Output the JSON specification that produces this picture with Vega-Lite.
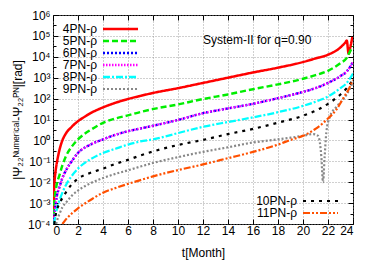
{
  "$schema": "https://vega.github.io/schema/vega-lite/v6.json",
  "width": 300,
  "height": 209,
  "autosize": "none",
  "padding": {"left": 53, "top": 15, "right": 23, "bottom": 39},
  "config": {
    "font": "Liberation Sans",
    "view": {"stroke": "black", "strokeWidth": 1},
    "axis": {"labelFont": "Liberation Sans", "labelFontSize": 12, "labelColor": "black", "titleFont": "Liberation Sans", "titleFontSize": 12, "titleFontWeight": "normal", "titleColor": "black", "tickColor": "black", "domain": false}
  },
  "datasets": {
    "main": [
      {"s":"4PN-ρ","t":0.03,"v":0.0001},{"s":"4PN-ρ","t":0.05,"v":0.001},{"s":"4PN-ρ","t":0.1,"v":0.00631},{"s":"4PN-ρ","t":0.2,"v":0.0316},{"s":"4PN-ρ","t":0.3,"v":0.0794},{"s":"4PN-ρ","t":0.5,"v":0.316},{"s":"4PN-ρ","t":0.75,"v":1},{"s":"4PN-ρ","t":1,"v":2},{"s":"4PN-ρ","t":1.5,"v":4.47},{"s":"4PN-ρ","t":2,"v":8.32},{"s":"4PN-ρ","t":2.5,"v":13.2},{"s":"4PN-ρ","t":3,"v":20},{"s":"4PN-ρ","t":4,"v":38},{"s":"4PN-ρ","t":5,"v":63.1},{"s":"4PN-ρ","t":6,"v":95.5},{"s":"4PN-ρ","t":7,"v":135},{"s":"4PN-ρ","t":8,"v":186},{"s":"4PN-ρ","t":10,"v":316},{"s":"4PN-ρ","t":12,"v":562},{"s":"4PN-ρ","t":14,"v":1000},{"s":"4PN-ρ","t":16,"v":1778},{"s":"4PN-ρ","t":18,"v":3020},{"s":"4PN-ρ","t":20,"v":5623},{"s":"4PN-ρ","t":21,"v":8318},{"s":"4PN-ρ","t":22,"v":12590},{"s":"4PN-ρ","t":23,"v":28180},{"s":"4PN-ρ","t":23.4,"v":50120},{"s":"4PN-ρ","t":23.5,"v":60260},{"s":"4PN-ρ","t":23.65,"v":14130},{"s":"4PN-ρ","t":23.8,"v":31620},{"s":"4PN-ρ","t":23.95,"v":89130},
      {"s":"5PN-ρ","t":0.03,"v":0.0001},{"s":"5PN-ρ","t":0.08,"v":0.000631},{"s":"5PN-ρ","t":0.15,"v":0.002},{"s":"5PN-ρ","t":0.3,"v":0.00794},{"s":"5PN-ρ","t":0.5,"v":0.02},{"s":"5PN-ρ","t":0.75,"v":0.0631},{"s":"5PN-ρ","t":1,"v":0.158},{"s":"5PN-ρ","t":1.5,"v":0.501},{"s":"5PN-ρ","t":2,"v":1.12},{"s":"5PN-ρ","t":2.5,"v":2},{"s":"5PN-ρ","t":3,"v":3.16},{"s":"5PN-ρ","t":4,"v":6.92},{"s":"5PN-ρ","t":5,"v":11.2},{"s":"5PN-ρ","t":6,"v":15.8},{"s":"5PN-ρ","t":7,"v":22.9},{"s":"5PN-ρ","t":8,"v":31.6},{"s":"5PN-ρ","t":10,"v":52.5},{"s":"5PN-ρ","t":12,"v":95.5},{"s":"5PN-ρ","t":14,"v":158},{"s":"5PN-ρ","t":16,"v":282},{"s":"5PN-ρ","t":18,"v":479},{"s":"5PN-ρ","t":20,"v":891},{"s":"5PN-ρ","t":21,"v":1318},{"s":"5PN-ρ","t":22,"v":2138},{"s":"5PN-ρ","t":23,"v":5012},{"s":"5PN-ρ","t":23.5,"v":8913},{"s":"5PN-ρ","t":23.8,"v":19950},{"s":"5PN-ρ","t":24,"v":31620},
      {"s":"6PN-ρ","t":0.05,"v":0.0001},{"s":"6PN-ρ","t":0.13,"v":0.000316},{"s":"6PN-ρ","t":0.3,"v":0.002},{"s":"6PN-ρ","t":0.53,"v":0.00631},{"s":"6PN-ρ","t":0.75,"v":0.0158},{"s":"6PN-ρ","t":1.07,"v":0.0398},{"s":"6PN-ρ","t":1.5,"v":0.1},{"s":"6PN-ρ","t":2,"v":0.251},{"s":"6PN-ρ","t":3,"v":0.631},{"s":"6PN-ρ","t":4,"v":1.12},{"s":"6PN-ρ","t":5,"v":1.86},{"s":"6PN-ρ","t":6,"v":2.75},{"s":"6PN-ρ","t":7,"v":3.72},{"s":"6PN-ρ","t":8,"v":5.01},{"s":"6PN-ρ","t":10,"v":9.55},{"s":"6PN-ρ","t":12,"v":20},{"s":"6PN-ρ","t":14,"v":33.9},{"s":"6PN-ρ","t":16,"v":56.2},{"s":"6PN-ρ","t":18,"v":105},{"s":"6PN-ρ","t":20,"v":209},{"s":"6PN-ρ","t":21,"v":316},{"s":"6PN-ρ","t":22,"v":562},{"s":"6PN-ρ","t":23,"v":1202},{"s":"6PN-ρ","t":23.5,"v":1995},{"s":"6PN-ρ","t":24,"v":5623},
      {"s":"7PN-ρ","t":0.05,"v":0.0001},{"s":"7PN-ρ","t":0.13,"v":0.000316},{"s":"7PN-ρ","t":0.3,"v":0.002},{"s":"7PN-ρ","t":0.53,"v":0.00631},{"s":"7PN-ρ","t":0.75,"v":0.0158},{"s":"7PN-ρ","t":1.07,"v":0.0398},{"s":"7PN-ρ","t":1.5,"v":0.1},{"s":"7PN-ρ","t":2,"v":0.251},{"s":"7PN-ρ","t":3,"v":0.631},{"s":"7PN-ρ","t":4,"v":1.12},{"s":"7PN-ρ","t":5,"v":1.86},{"s":"7PN-ρ","t":6,"v":2.75},{"s":"7PN-ρ","t":7,"v":3.72},{"s":"7PN-ρ","t":8,"v":5.01},{"s":"7PN-ρ","t":10,"v":9.55},{"s":"7PN-ρ","t":12,"v":20},{"s":"7PN-ρ","t":14,"v":33.9},{"s":"7PN-ρ","t":16,"v":56.2},{"s":"7PN-ρ","t":18,"v":105},{"s":"7PN-ρ","t":20,"v":209},{"s":"7PN-ρ","t":21,"v":316},{"s":"7PN-ρ","t":22,"v":562},{"s":"7PN-ρ","t":23,"v":1202},{"s":"7PN-ρ","t":23.5,"v":1995},{"s":"7PN-ρ","t":24,"v":5623},
      {"s":"8PN-ρ","t":0.08,"v":0.0001},{"s":"8PN-ρ","t":0.13,"v":0.000158},{"s":"8PN-ρ","t":0.3,"v":0.000501},{"s":"8PN-ρ","t":0.53,"v":0.00141},{"s":"8PN-ρ","t":0.75,"v":0.00316},{"s":"8PN-ρ","t":1.07,"v":0.00794},{"s":"8PN-ρ","t":1.5,"v":0.02},{"s":"8PN-ρ","t":2,"v":0.0447},{"s":"8PN-ρ","t":3,"v":0.126},{"s":"8PN-ρ","t":4,"v":0.251},{"s":"8PN-ρ","t":5,"v":0.398},{"s":"8PN-ρ","t":6,"v":0.631},{"s":"8PN-ρ","t":7,"v":0.891},{"s":"8PN-ρ","t":8,"v":1.12},{"s":"8PN-ρ","t":10,"v":2.24},{"s":"8PN-ρ","t":12,"v":4.47},{"s":"8PN-ρ","t":14,"v":7.59},{"s":"8PN-ρ","t":16,"v":12.6},{"s":"8PN-ρ","t":18,"v":22.4},{"s":"8PN-ρ","t":20,"v":44.7},{"s":"8PN-ρ","t":21,"v":70.8},{"s":"8PN-ρ","t":22,"v":126},{"s":"8PN-ρ","t":23,"v":316},{"s":"8PN-ρ","t":23.5,"v":562},{"s":"8PN-ρ","t":24,"v":1585},
      {"s":"9PN-ρ","t":0.25,"v":0.0001},{"s":"9PN-ρ","t":0.4,"v":0.0002},{"s":"9PN-ρ","t":0.53,"v":0.000316},{"s":"9PN-ρ","t":0.75,"v":0.000631},{"s":"9PN-ρ","t":1.07,"v":0.00112},{"s":"9PN-ρ","t":1.5,"v":0.00224},{"s":"9PN-ρ","t":2,"v":0.00398},{"s":"9PN-ρ","t":3,"v":0.00891},{"s":"9PN-ρ","t":4,"v":0.0158},{"s":"9PN-ρ","t":5,"v":0.0251},{"s":"9PN-ρ","t":6,"v":0.0372},{"s":"9PN-ρ","t":7,"v":0.0562},{"s":"9PN-ρ","t":8,"v":0.0832},{"s":"9PN-ρ","t":10,"v":0.158},{"s":"9PN-ρ","t":12,"v":0.282},{"s":"9PN-ρ","t":14,"v":0.468},{"s":"9PN-ρ","t":16,"v":0.794},{"s":"9PN-ρ","t":18,"v":1.12},{"s":"9PN-ρ","t":19,"v":1.35},{"s":"9PN-ρ","t":20,"v":1.66},{"s":"9PN-ρ","t":20.8,"v":2},{"s":"9PN-ρ","t":21.2,"v":1.66},{"s":"9PN-ρ","t":21.35,"v":0.794},{"s":"9PN-ρ","t":21.47,"v":0.158},{"s":"9PN-ρ","t":21.6,"v":0.01},{"s":"9PN-ρ","t":21.73,"v":0.158},{"s":"9PN-ρ","t":21.87,"v":2.51},{"s":"9PN-ρ","t":22.13,"v":12.6},{"s":"9PN-ρ","t":22.67,"v":39.8},{"s":"9PN-ρ","t":23.2,"v":89.1},{"s":"9PN-ρ","t":23.73,"v":282},{"s":"9PN-ρ","t":24,"v":631}
    ],
    "hi": [
      {"s":"10PN-ρ","t":0.1,"v":0.0001},{"s":"10PN-ρ","t":0.2,"v":0.000251},{"s":"10PN-ρ","t":0.3,"v":0.000447},{"s":"10PN-ρ","t":0.53,"v":0.001},{"s":"10PN-ρ","t":0.75,"v":0.00178},{"s":"10PN-ρ","t":1.07,"v":0.00355},{"s":"10PN-ρ","t":1.5,"v":0.00794},{"s":"10PN-ρ","t":2,"v":0.0148},{"s":"10PN-ρ","t":3,"v":0.0282},{"s":"10PN-ρ","t":4,"v":0.0447},{"s":"10PN-ρ","t":5,"v":0.0759},{"s":"10PN-ρ","t":6,"v":0.117},{"s":"10PN-ρ","t":7,"v":0.191},{"s":"10PN-ρ","t":8,"v":0.295},{"s":"10PN-ρ","t":10,"v":0.603},{"s":"10PN-ρ","t":12,"v":1.05},{"s":"10PN-ρ","t":14,"v":2},{"s":"10PN-ρ","t":16,"v":3.55},{"s":"10PN-ρ","t":18,"v":7.08},{"s":"10PN-ρ","t":20,"v":15.1},{"s":"10PN-ρ","t":21,"v":26.3},{"s":"10PN-ρ","t":22,"v":56.2},{"s":"10PN-ρ","t":23,"v":158},{"s":"10PN-ρ","t":23.5,"v":316},{"s":"10PN-ρ","t":24,"v":794},
      {"s":"11PN-ρ","t":0.75,"v":0.0001},{"s":"11PN-ρ","t":1,"v":0.000158},{"s":"11PN-ρ","t":1.5,"v":0.000316},{"s":"11PN-ρ","t":2,"v":0.000562},{"s":"11PN-ρ","t":3,"v":0.00141},{"s":"11PN-ρ","t":4,"v":0.00316},{"s":"11PN-ρ","t":5,"v":0.00525},{"s":"11PN-ρ","t":6,"v":0.00832},{"s":"11PN-ρ","t":7,"v":0.0126},{"s":"11PN-ρ","t":8,"v":0.0191},{"s":"11PN-ρ","t":10,"v":0.038},{"s":"11PN-ρ","t":12,"v":0.0708},{"s":"11PN-ρ","t":14,"v":0.141},{"s":"11PN-ρ","t":16,"v":0.282},{"s":"11PN-ρ","t":18,"v":0.631},{"s":"11PN-ρ","t":19,"v":1.05},{"s":"11PN-ρ","t":20,"v":1.66},{"s":"11PN-ρ","t":21,"v":3.55},{"s":"11PN-ρ","t":22,"v":11.2},{"s":"11PN-ρ","t":22.7,"v":31.6},{"s":"11PN-ρ","t":23.2,"v":100},{"s":"11PN-ρ","t":23.7,"v":316},{"s":"11PN-ρ","t":24,"v":794}
    ],
    "note": [{"t": 12, "v": 63000, "label": "System-II for q=0.90"}]
  },
  "layer": [
    {
      "data": {"name": "main"},
      "mark": {"type": "line", "clip": true, "interpolate": "monotone"},
      "encoding": {
        "x": {"field": "t", "type": "quantitative", "scale": {"domain": [0, 24], "nice": false},
          "axis": {"values": [0,2,4,6,8,10,12,14,16,18,20,22,24], "grid": true, "gridColor": "#888888", "gridDash": [1, 2], "gridWidth": 0.8, "tickSize": -5, "labelPadding": 6, "title": "t[Month]", "titlePadding": 11}},
        "y": {"field": "v", "type": "quantitative", "scale": {"type": "log", "domain": [0.0001, 1000000], "nice": false},
          "axis": {"values": [0.0001,0.0003162,0.001,0.003162,0.01,0.03162,0.1,0.3162,1,3.162,10,31.62,100,316.2,1000,3162,10000,31620,100000,316200,1000000],
            "grid": true, "gridColor": "#888888", "gridDash": [1, 2], "gridWidth": 0.8,
            "gridOpacity": {"condition": {"test": "abs(log(datum.value)/LN10 - round(log(datum.value)/LN10)) < 0.1", "value": 1}, "value": 0},
            "tickSize": {"condition": {"test": "abs(log(datum.value)/LN10 - round(log(datum.value)/LN10)) < 0.1", "value": -5}, "value": -3},
            "labelPadding": 8,
            "labelExpr": "abs(log(datum.value)/LN10 - round(log(datum.value)/LN10)) > 0.1 ? '' : datum.value < 0.0002 ? '10⁻⁴' : datum.value < 0.002 ? '10⁻³' : datum.value < 0.02 ? '10⁻²' : datum.value < 0.2 ? '10⁻¹' : datum.value < 2 ? '10⁰' : datum.value < 20 ? '10¹' : datum.value < 200 ? '10²' : datum.value < 2000 ? '10³' : datum.value < 20000 ? '10⁴' : datum.value < 200000 ? '10⁵' : '10⁶'",
            "title": "|Ψ₂₂ᴺᵘᵐᵉʳⁱᶜᵃˡ-Ψ₂₂ᴾᴺ|[rad]", "titlePadding": 3}},
        "color": {"field": "s", "type": "nominal",
          "scale": {"domain": ["4PN-ρ","5PN-ρ","6PN-ρ","7PN-ρ","8PN-ρ","9PN-ρ"], "range": ["#ff0000","#00ee00","#0000ff","#ff00ff","#00ffff","#888888"]},
          "legend": {"orient": "none", "legendX": 61.5, "legendY": 8, "title": null, "symbolType": "M-6,0H6", "symbolSize": 34, "labelAlign": "right", "labelOffset": -29.5, "labelFontSize": 12, "labelFont": "Liberation Sans", "labelColor": "black", "rowPadding": -0.4, "padding": 0}},
        "strokeDash": {"field": "s", "type": "nominal",
          "scale": {"domain": ["4PN-ρ","5PN-ρ","6PN-ρ","7PN-ρ","8PN-ρ","9PN-ρ"], "range": [[1,0],[6,3],[2,2],[1.5,1.5],[7,2,2,2],[2,2]]}},
        "strokeWidth": {"field": "s", "type": "nominal",
          "scale": {"domain": ["4PN-ρ","5PN-ρ","6PN-ρ","7PN-ρ","8PN-ρ","9PN-ρ"], "range": [2.5,2.2,2.2,2.2,2.2,2.2]}}
      }
    },
    {
      "data": {"name": "hi"},
      "mark": {"type": "line", "clip": true, "interpolate": "monotone"},
      "encoding": {
        "x": {"field": "t", "type": "quantitative", "axis": null},
        "y": {"field": "v", "type": "quantitative", "axis": null},
        "color": {"field": "s", "type": "nominal",
          "scale": {"domain": ["10PN-ρ","11PN-ρ"], "range": ["#000000","#ff5000"]},
          "legend": {"orient": "none", "legendX": 261.5, "legendY": 180, "title": null, "symbolType": "M-6,0H6", "symbolSize": 34, "labelAlign": "right", "labelOffset": -29.5, "labelFontSize": 12, "labelFont": "Liberation Sans", "labelColor": "black", "rowPadding": -2.2, "padding": 0}},
        "strokeDash": {"field": "s", "type": "nominal",
          "scale": {"domain": ["10PN-ρ","11PN-ρ"], "range": [[3,5],[7,2,2,2,2,2]]}},
        "strokeWidth": {"field": "s", "type": "nominal",
          "scale": {"domain": ["10PN-ρ","11PN-ρ"], "range": [2.2,2.2]}}
      }
    },
    {
      "data": {"name": "note"},
      "mark": {"type": "text", "align": "left", "baseline": "middle", "fontSize": 12, "font": "Liberation Sans", "color": "black"},
      "encoding": {
        "x": {"field": "t", "type": "quantitative",
          "axis": {"orient": "top", "values": [0,2,4,6,8,10,12,14,16,18,20,22,24], "labels": false, "grid": false, "tickSize": -5, "title": null}},
        "y": {"field": "v", "type": "quantitative",
          "axis": {"orient": "right", "values": [0.0001,0.0003162,0.001,0.003162,0.01,0.03162,0.1,0.3162,1,3.162,10,31.62,100,316.2,1000,3162,10000,31620,100000,316200,1000000], "labels": false, "grid": false,
            "tickSize": {"condition": {"test": "abs(log(datum.value)/LN10 - round(log(datum.value)/LN10)) < 0.1", "value": -5}, "value": -3}, "title": null}},
        "text": {"field": "label"}
      }
    }
  ],
  "resolve": {
    "scale": {"color": "independent", "strokeDash": "independent", "strokeWidth": "independent"},
    "axis": {"x": "independent", "y": "independent"}
  }
}
